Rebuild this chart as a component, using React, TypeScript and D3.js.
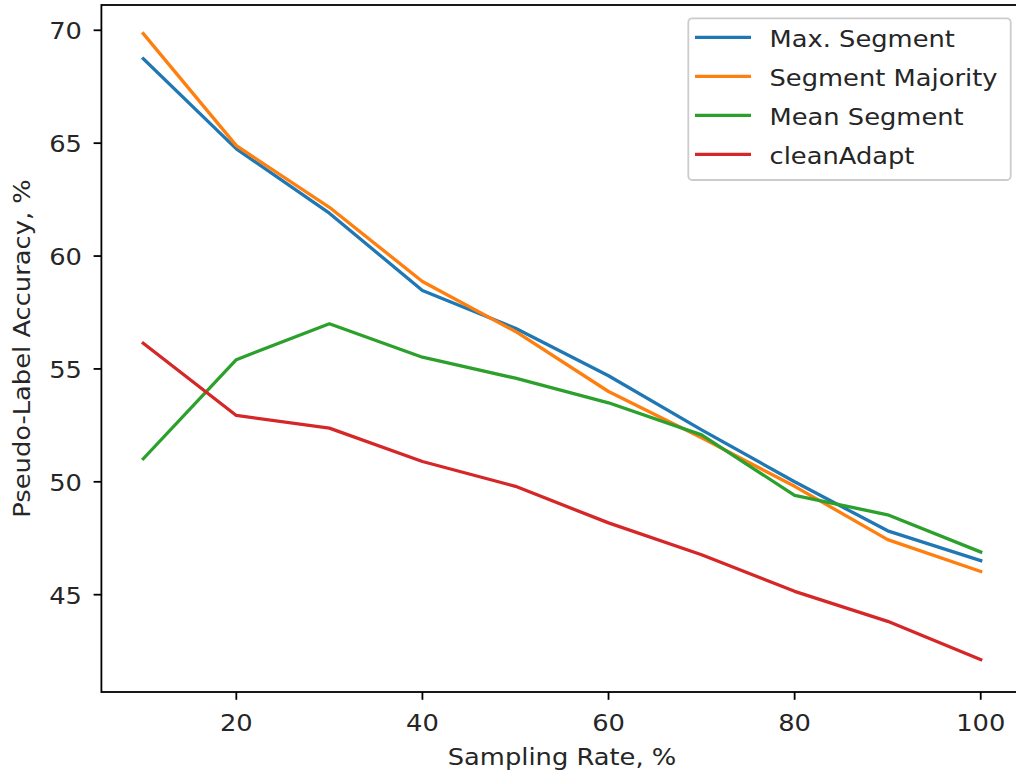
import React from "react";
import * as d3 from "d3";

const samplingRates = [10, 20, 30, 40, 50, 60, 70, 80, 90, 100];
const maxSegment = [68.74, 64.75, 61.9, 58.47, 56.8, 54.7, 52.3, 50.0, 47.83, 46.51];
const segmentMajority = [69.85, 64.89, 62.16, 58.87, 56.66, 54.0, 51.95, 49.8, 47.44, 46.03];
const meanSegment = [51.02, 55.41, 57.0, 55.52, 54.59, 53.5, 52.08, 49.4, 48.54, 46.89];
const cleanAdapt = [56.14, 52.94, 52.38, 50.9, 49.8, 48.18, 46.77, 45.15, 43.82, 42.12];
const xTicks = [20, 40, 60, 80, 100];
const yTicks = [45, 50, 55, 60, 65, 70];
const seriesNames = ["Max. Segment", "Segment Majority", "Mean Segment", "cleanAdapt"];
const seriesColors = ["#1f77b4", "#ff7f0e", "#2ca02c", "#d62728"];

export default function App() {
  const W = 1016, H = 774;
  const left = 101.4, right = 1022.6, top = 5, bottom = 692;
  const x = d3.scaleLinear().domain([5.5, 104.5]).range([left, right]);
  const y = d3.scaleLinear().domain([40.69, 71.12]).range([bottom, top]);
  const series = [maxSegment, segmentMajority, meanSegment, cleanAdapt];
  const line = d3
    .line<number>()
    .x((_, i) => x(samplingRates[i]))
    .y((d) => y(d));
  const font = "'DejaVu Sans', sans-serif";
  const fs = 23;
  const sx = 1.12;
  const tickLen = 7.8;
  const txtColor = "#262626";

  const legX = 688.3, legY = 18.3, legW = 322.4, legH = 161.7;
  const rowH = 39;

  const T = (
    px: number,
    py: number,
    content: string,
    anchor: "start" | "middle" | "end",
    rotate = 0,
    key?: string
  ) => (
    <text
      key={key}
      transform={`translate(${px},${py}) rotate(${rotate}) scale(${sx},1)`}
      textAnchor={anchor}
      fontSize={fs}
      fill={txtColor}
    >
      {content}
    </text>
  );

  return (
    <svg
      width={W}
      height={H}
      style={{ position: "absolute", left: 0, top: 0, background: "#fff" }}
      fontFamily={font}
    >
      <rect x={0} y={0} width={W} height={H} fill="#fff" />
      {series.map((s, i) => (
        <path
          key={i}
          d={line(s) || ""}
          fill="none"
          stroke={seriesColors[i]}
          strokeWidth={3.3}
          strokeLinejoin="round"
          strokeLinecap="square"
        />
      ))}
      {/* spines */}
      <rect
        x={left}
        y={top}
        width={right - left}
        height={bottom - top}
        fill="none"
        stroke="#000"
        strokeWidth={1.8}
      />
      {/* x ticks */}
      {xTicks.map((t) => (
        <g key={"x" + t}>
          <line x1={x(t)} x2={x(t)} y1={bottom} y2={bottom + tickLen} stroke="#000" strokeWidth={1.8} />
          {T(x(t), 730.6, String(t), "middle")}
        </g>
      ))}
      {/* y ticks */}
      {yTicks.map((t) => (
        <g key={"y" + t}>
          <line x1={left - tickLen} x2={left} y1={y(t)} y2={y(t)} stroke="#000" strokeWidth={1.8} />
          {T(82, y(t) + 9.2, String(t), "end")}
        </g>
      ))}
      {T((left + right) / 2, 764.5, "Sampling Rate, %", "middle")}
      {T(29.5, (top + bottom) / 2, "Pseudo-Label Accuracy, %", "middle", -90)}
      {/* legend */}
      <rect
        x={legX}
        y={legY}
        width={legW}
        height={legH}
        rx={4}
        ry={4}
        fill="#fff"
        fillOpacity={0.8}
        stroke="#cccccc"
        strokeWidth={1.8}
      />
      {seriesNames.map((n, i) => {
        const cy = 37.3 + i * rowH;
        return (
          <g key={n}>
            <line x1={695} x2={751} y1={cy} y2={cy} stroke={seriesColors[i]} strokeWidth={3.3} />
            {T(769.5, cy + 9.3, n, "start")}
          </g>
        );
      })}
    </svg>
  );
}
